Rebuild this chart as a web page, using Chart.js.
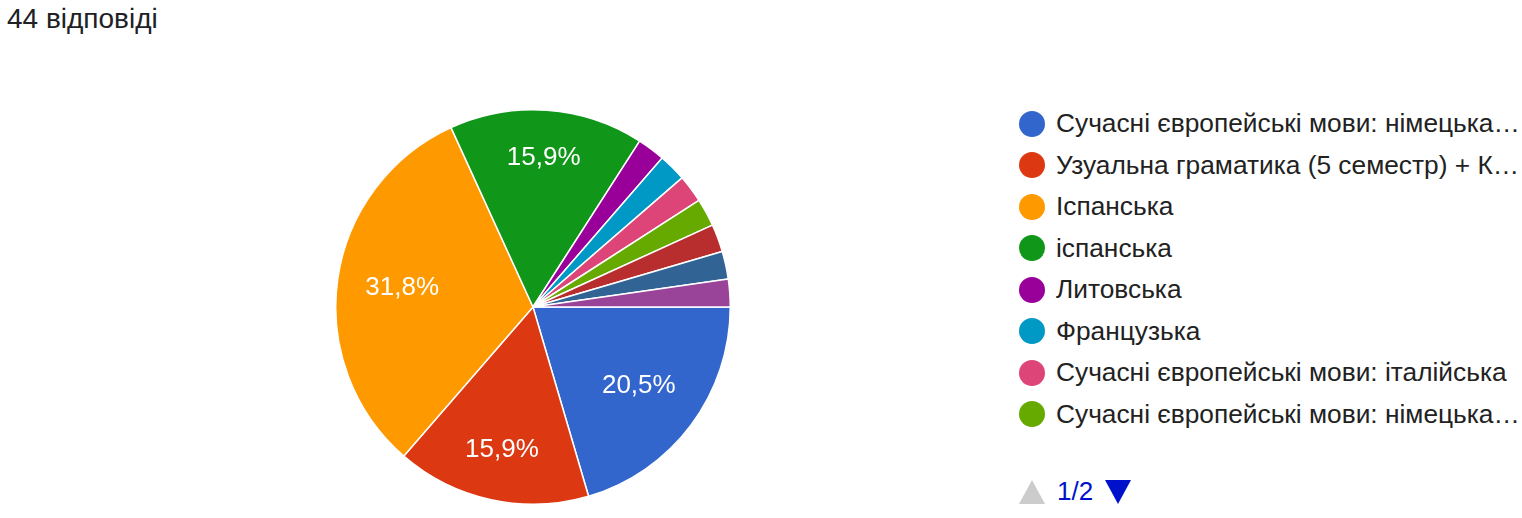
<!DOCTYPE html>
<html>
<head>
<meta charset="utf-8">
<script src="https://cdn.jsdelivr.net/npm/chart.js"></script>
<style>
  html, body { margin: 0; padding: 0; background: #fff; }
  body { width: 1522px; height: 518px; position: relative; overflow: hidden; font-family: Arial, "Liberation Sans", sans-serif; }
  #titulo { position: absolute; left: 7px; top: 3px; font: 28px Arial, "Liberation Sans", sans-serif; color: #202124; }
  #pizza { position: absolute; left: 335px; top: 109px; width: 396px; height: 396px; }
  #legenda { position: absolute; left: 1019px; top: 103px; }
  .item { display: flex; align-items: center; height: 41.5px; font-size: 26.3px; color: #222; white-space: nowrap; }
  .bola { width: 26px; height: 26px; border-radius: 50%; margin-right: 11px; flex: none; }
  #pager { position: absolute; left: 1019px; top: 476px; display: flex; align-items: center; font-size: 26px; color: #0011cc; }
  .tri-up { width: 0; height: 0; border-left: 13px solid transparent; border-right: 13px solid transparent; border-bottom: 24px solid #cccccc; margin-right: 12px; }
  .tri-down { width: 0; height: 0; border-left: 13px solid transparent; border-right: 13px solid transparent; border-top: 24px solid #0011cc; margin-left: 12px; }
</style>
</head>
<body>
<div id="titulo">44 відповіді</div>
<div id="pizza"><canvas id="graficoPizza"></canvas></div>
<div id="legenda"></div>
<div id="pager"><div class="tri-up"></div><span>1/2</span><div class="tri-down"></div></div>
<script>
// ===== Dados
const categorias = [
  'Сучасні європейські мови: німецька…',
  'Узуальна граматика (5 семестр) + К…',
  'Іспанська',
  'іспанська',
  'Литовська',
  'Французька',
  'Сучасні європейські мови: італійська',
  'Сучасні європейські мови: німецька…',
  '—', '—', '—'   // página 2 da legenda (não visível)
];
const respostas = [9, 7, 14, 7, 1, 1, 1, 1, 1, 1, 1];
const cores = ['#3366cc', '#dc3912', '#ff9900', '#109618', '#990099', '#0099c6',
               '#dd4477', '#66aa00', '#b82e2e', '#316395', '#994499'];
const itensPorPagina = 8;

const total = respostas.reduce((a, b) => a + b, 0);

// ===== Legenda HTML (página 1)
const legenda = document.getElementById('legenda');
categorias.slice(0, itensPorPagina).forEach((nome, i) => {
  const row = document.createElement('div');
  row.className = 'item';
  row.innerHTML = `<span class="bola" style="background:${cores[i]}"></span><span></span>`;
  row.lastChild.textContent = nome;
  legenda.appendChild(row);
});

// ===== Rótulos de percentagem dentro das fatias
const rotuloPlugin = {
  id: 'rotuloPlugin',
  afterDatasetsDraw(chart) {
    const { ctx } = chart;
    const meta = chart.getDatasetMeta(0);
    const fatores = [0.67, 0.74, 0.67, 0.76];
    ctx.save();
    ctx.font = '26px Arial, "Liberation Sans", sans-serif';
    ctx.fillStyle = '#ffffff';
    ctx.textAlign = 'center';
    ctx.textBaseline = 'middle';
    meta.data.forEach((arc, i) => {
      const pct = respostas[i] / total * 100;
      if (pct < 5) return;
      const { x, y, startAngle, endAngle, outerRadius } = arc.getProps(['x', 'y', 'startAngle', 'endAngle', 'outerRadius'], true);
      const a = (startAngle + endAngle) / 2;
      const r = outerRadius * (fatores[i] || 0.7);
      const txt = pct.toFixed(1).replace('.', ',') + '%';
      ctx.fillText(txt, x + Math.cos(a) * r, y + Math.sin(a) * r);
    });
    ctx.restore();
  }
};

new Chart(document.getElementById('graficoPizza'), {
  type: 'pie',
  data: {
    labels: categorias,
    datasets: [{
      data: respostas,
      backgroundColor: cores,
      borderColor: '#ffffff',
      borderWidth: 1.5
    }]
  },
  options: {
    responsive: true,
    maintainAspectRatio: false,
    animation: false,
    rotation: 90,
    layout: { padding: 0 },
    plugins: {
      legend: { display: false },
      tooltip: { enabled: true }
    }
  },
  plugins: [rotuloPlugin]
});
</script>
</body>
</html>
